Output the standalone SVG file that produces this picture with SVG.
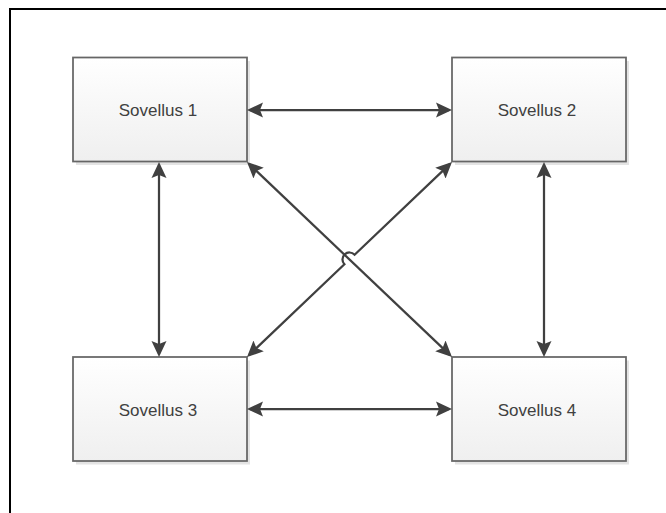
<svg xmlns="http://www.w3.org/2000/svg" width="666" height="513" viewBox="0 0 666 513">
  <style>
    .box { fill: url(#boxFill); stroke: #666666; stroke-width: 1.75; }
    .shadow { fill: #e4e4e4; }
    .label { font-family: "Liberation Sans", Arial, sans-serif; font-size: 17px; fill: #404040; text-anchor: middle; }
    .link { fill: none; stroke: #404040; stroke-width: 2.25; marker-start: url(#head); marker-end: url(#head); }
  </style>
  <defs>
    <linearGradient id="boxFill" x1="0" y1="0" x2="0" y2="1">
      <stop offset="0" stop-color="#ffffff"/>
      <stop offset="1" stop-color="#efefef"/>
    </linearGradient>
    <marker id="head" markerUnits="userSpaceOnUse" markerWidth="18" markerHeight="18"
            viewBox="0 -9 18 18" refX="13" refY="0" orient="auto-start-reverse">
      <path d="M16,0 L0,-7.5 L3,0 L0,7.5 Z" fill="#404040"/>
    </marker>
  </defs>

  <rect width="666" height="513" fill="#ffffff"/>
  <!-- outer frame, open at right and bottom -->
  <path d="M10,520 V9 H680" fill="none" stroke="#000000" stroke-width="2"/>

  <g id="sovellus1">
    <rect class="shadow" x="76" y="61" width="174" height="104"/>
    <rect class="box" x="73" y="57.5" width="174" height="104"/>
    <text class="label" x="158" y="116">Sovellus 1</text>
  </g>
  <g id="sovellus2">
    <rect class="shadow" x="455" y="61" width="174" height="104"/>
    <rect class="box" x="452" y="57.5" width="174" height="104"/>
    <text class="label" x="537" y="116">Sovellus 2</text>
  </g>
  <g id="sovellus3">
    <rect class="shadow" x="76" y="360.5" width="174" height="104"/>
    <rect class="box" x="73" y="357" width="174" height="104"/>
    <text class="label" x="158" y="416">Sovellus 3</text>
  </g>
  <g id="sovellus4">
    <rect class="shadow" x="455" y="360.5" width="174" height="104"/>
    <rect class="box" x="452" y="357" width="174" height="104"/>
    <text class="label" x="537" y="416">Sovellus 4</text>
  </g>

  <g id="connectors">
    <path class="link" d="M250,110 H449"/>
    <path class="link" d="M250,409 H449"/>
    <path class="link" d="M159,165 V354"/>
    <path class="link" d="M544,165 V354"/>
    <path class="link" d="M249.2,164.1 L449.8,354.9"/>
    <!-- crosses the other diagonal with a line jump -->
    <path class="link" d="M449.8,164.1 L354.6,254.7 A7,7 0 0 0 344.4,264.3 L249.2,354.9"/>
  </g>
</svg>
